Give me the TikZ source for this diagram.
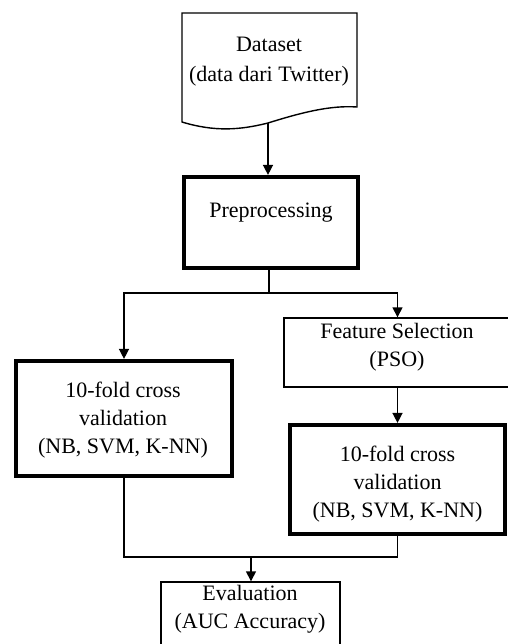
\documentclass[tikz,border=0pt]{standalone}
\usepackage{fontspec}
\setmainfont{Liberation Serif}
\usetikzlibrary{arrows.meta}
\begin{document}
\begin{tikzpicture}[x=0.5pt,y=-0.5pt,
  thin line/.style={line width=0.7pt},
  box/.style={draw,thin line,rectangle,inner sep=0pt},
  thickbox/.style={draw,line width=2.1pt,rectangle,inner sep=0pt},
  lbl/.style={align=center,font=\fontsize{11}{14}\selectfont,inner sep=0pt},
  conn/.style={thin line},
  arr/.style={thin line,-{Triangle[width=5pt,length=5pt]}}]
\useasboundingbox (0,0) rectangle (508,644);
\begin{scope}
\clip (0,0) rectangle (508,644);
% Dataset (document shape)
\draw[thin line] (182,122) -- (182,13) -- (357,13) -- (357,107)
  .. controls (330,105) and (300,113) .. (268,123)
  .. controls (240,130) and (215,132) .. (182,122) -- cycle;
\coordinate (ds) at (268,123);
\node[lbl,font=\fontsize{11}{15}\selectfont] (dst) at (269,62) {Dataset\\(data dari Twitter)};
% Preprocessing
\node[thickbox,minimum width=87pt,minimum height=45.5pt] (pre) at (271,222.5) {};
\node[lbl] (pret) at (271,213) {Preprocessing};
% Left 10-fold
\node[thickbox,minimum width=108pt,minimum height=57.5pt] (lv) at (124,418.5) {};
\node[lbl] (lvt) at (123,420) {10-fold cross\\validation\\(NB, SVM, K-NN)};
% Feature selection
\node[box,minimum width=118pt,minimum height=34.5pt] (fs) at (402,352.5) {};
\node[lbl] (fst) at (397,347.5) {Feature Selection\\(PSO)};
% Right 10-fold
\node[thickbox,minimum width=107.5pt,minimum height=54.5pt] (rv) at (397.5,479.5) {};
\node[lbl] (rvt) at (397.5,484) {10-fold cross\\validation\\(NB, SVM, K-NN)};
% Evaluation
\node[box,minimum width=89.5pt,minimum height=39pt] (ev) at (250.5,621) {};
\node[lbl] (evt) at (250,609) {Evaluation\\(AUC Accuracy)};
% connectors
\coordinate (fork) at (269,293);
\coordinate (merge) at (251,557);
\draw[arr] (ds) -- (ds |- pre.north);
\draw[conn] (pre.south -| fork) -- (fork);
\draw[arr] (fork) -| (lv.north);
\draw[arr] (fork) -| (rv.north |- fs.north);
\draw[arr] (rv.north |- fs.south) -- (rv.north);
\draw[conn] (lv.south) |- (merge);
\draw[conn] (rv.south) |- (merge);
\draw[arr] (merge) -- (merge |- ev.north);
\end{scope}
\end{tikzpicture}
\end{document}
